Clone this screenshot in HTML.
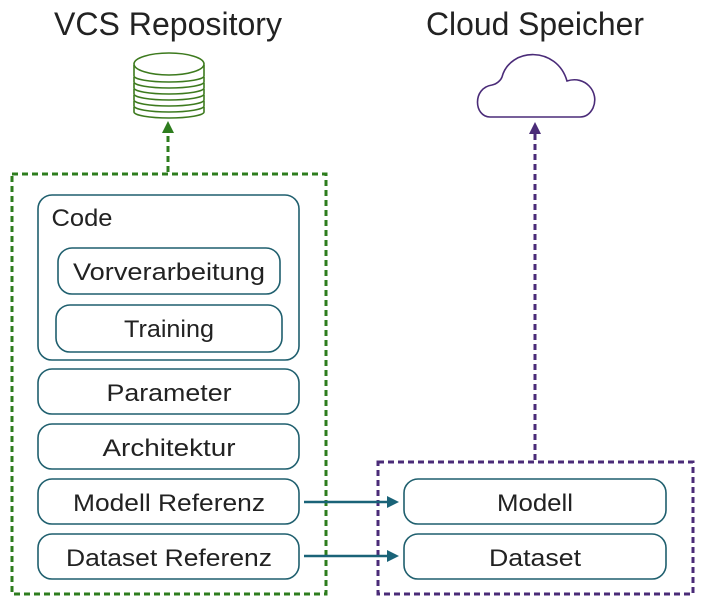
<!DOCTYPE html>
<html><head><meta charset="utf-8"><style>
html,body{margin:0;padding:0;background:#fff;}
svg text{font-family:"Liberation Sans",sans-serif;fill:#222;}
</style></head><body>
<svg width="705" height="606" viewBox="0 0 705 606" xmlns="http://www.w3.org/2000/svg">
<text x="168" y="35" font-size="32" text-anchor="middle" textLength="228" lengthAdjust="spacingAndGlyphs">VCS Repository</text>
<text x="535" y="35" font-size="32" text-anchor="middle" textLength="218" lengthAdjust="spacingAndGlyphs">Cloud Speicher</text>

<!-- database -->
<g fill="#fff" stroke="#3d7a1e" stroke-width="1.6">
<path d="M134,107 v5 a35,6 0 0 0 70,0 v-5"/>
<path d="M134,101 v5 a35,6 0 0 0 70,0 v-5"/>
<path d="M134,95 v5 a35,6 0 0 0 70,0 v-5"/>
<path d="M134,89 v5 a35,6 0 0 0 70,0 v-5"/>
<path d="M134,83 v5 a35,6 0 0 0 70,0 v-5"/>
<path d="M134,77 v5 a35,6 0 0 0 70,0 v-5"/>
<path d="M134,65 v11 a35,6 0 0 0 70,0 v-11"/>
<ellipse cx="169" cy="64" rx="35" ry="11"/>
</g>
<line x1="168" y1="172" x2="168" y2="133" stroke="#2e7d1e" stroke-width="3" stroke-dasharray="6,4"/>
<path d="M162,133 L168,121 L174,133 Z" fill="#2e7d1e"/>

<!-- cloud -->
<path d="M490,117 C474,117 472,88 492,85 C497,84 501,80 502,77 C510,47 557,46 567,81 C585,75 600,92 593,108 C590,114 586,117 580,117 Z" fill="#fff" stroke="#4a2b78" stroke-width="1.6"/>
<line x1="535" y1="460" x2="535" y2="134" stroke="#4a2b78" stroke-width="3" stroke-dasharray="6,4"/>
<path d="M529,134 L535,122 L541,134 Z" fill="#4a2b78"/>

<rect x="12" y="174" width="314" height="420" fill="none" stroke="#2e7d1e" stroke-width="3" stroke-dasharray="6,4"/>
<rect x="378" y="462" width="315" height="132" fill="none" stroke="#4a2b78" stroke-width="3" stroke-dasharray="6,4"/>

<g fill="#fff" stroke="#1f5f6e" stroke-width="1.6">
<rect x="38" y="195" width="261" height="165" rx="14"/>
<rect x="58" y="248" width="222" height="46" rx="14"/>
<rect x="56" y="305" width="226" height="47" rx="14"/>
<rect x="38" y="369" width="261" height="45" rx="14"/>
<rect x="38" y="424" width="261" height="45" rx="14"/>
<rect x="38" y="479" width="261" height="45" rx="14"/>
<rect x="38" y="534" width="261" height="45" rx="14"/>
<rect x="404" y="479" width="262" height="45" rx="14"/>
<rect x="404" y="534" width="262" height="45" rx="14"/>
</g>
<g font-size="24" text-anchor="middle" lengthAdjust="spacingAndGlyphs">
<text x="82" y="226" textLength="61" lengthAdjust="spacingAndGlyphs">Code</text>
<text x="169" y="280" textLength="192" lengthAdjust="spacingAndGlyphs">Vorverarbeitung</text>
<text x="169" y="337" textLength="90" lengthAdjust="spacingAndGlyphs">Training</text>
<text x="169" y="401" textLength="125" lengthAdjust="spacingAndGlyphs">Parameter</text>
<text x="169" y="456" textLength="133" lengthAdjust="spacingAndGlyphs">Architektur</text>
<text x="169" y="511" textLength="192" lengthAdjust="spacingAndGlyphs">Modell Referenz</text>
<text x="169" y="566" textLength="206" lengthAdjust="spacingAndGlyphs">Dataset Referenz</text>
<text x="535" y="511" textLength="76" lengthAdjust="spacingAndGlyphs">Modell</text>
<text x="535" y="566" textLength="92" lengthAdjust="spacingAndGlyphs">Dataset</text>
</g>

<line x1="304" y1="502" x2="388" y2="502" stroke="#1a6378" stroke-width="2.5"/>
<path d="M387,496 L399,502 L387,508 Z" fill="#1a6378"/>
<line x1="304" y1="556" x2="388" y2="556" stroke="#1a6378" stroke-width="2.5"/>
<path d="M387,550 L399,556 L387,562 Z" fill="#1a6378"/>
</svg>
</body></html>
